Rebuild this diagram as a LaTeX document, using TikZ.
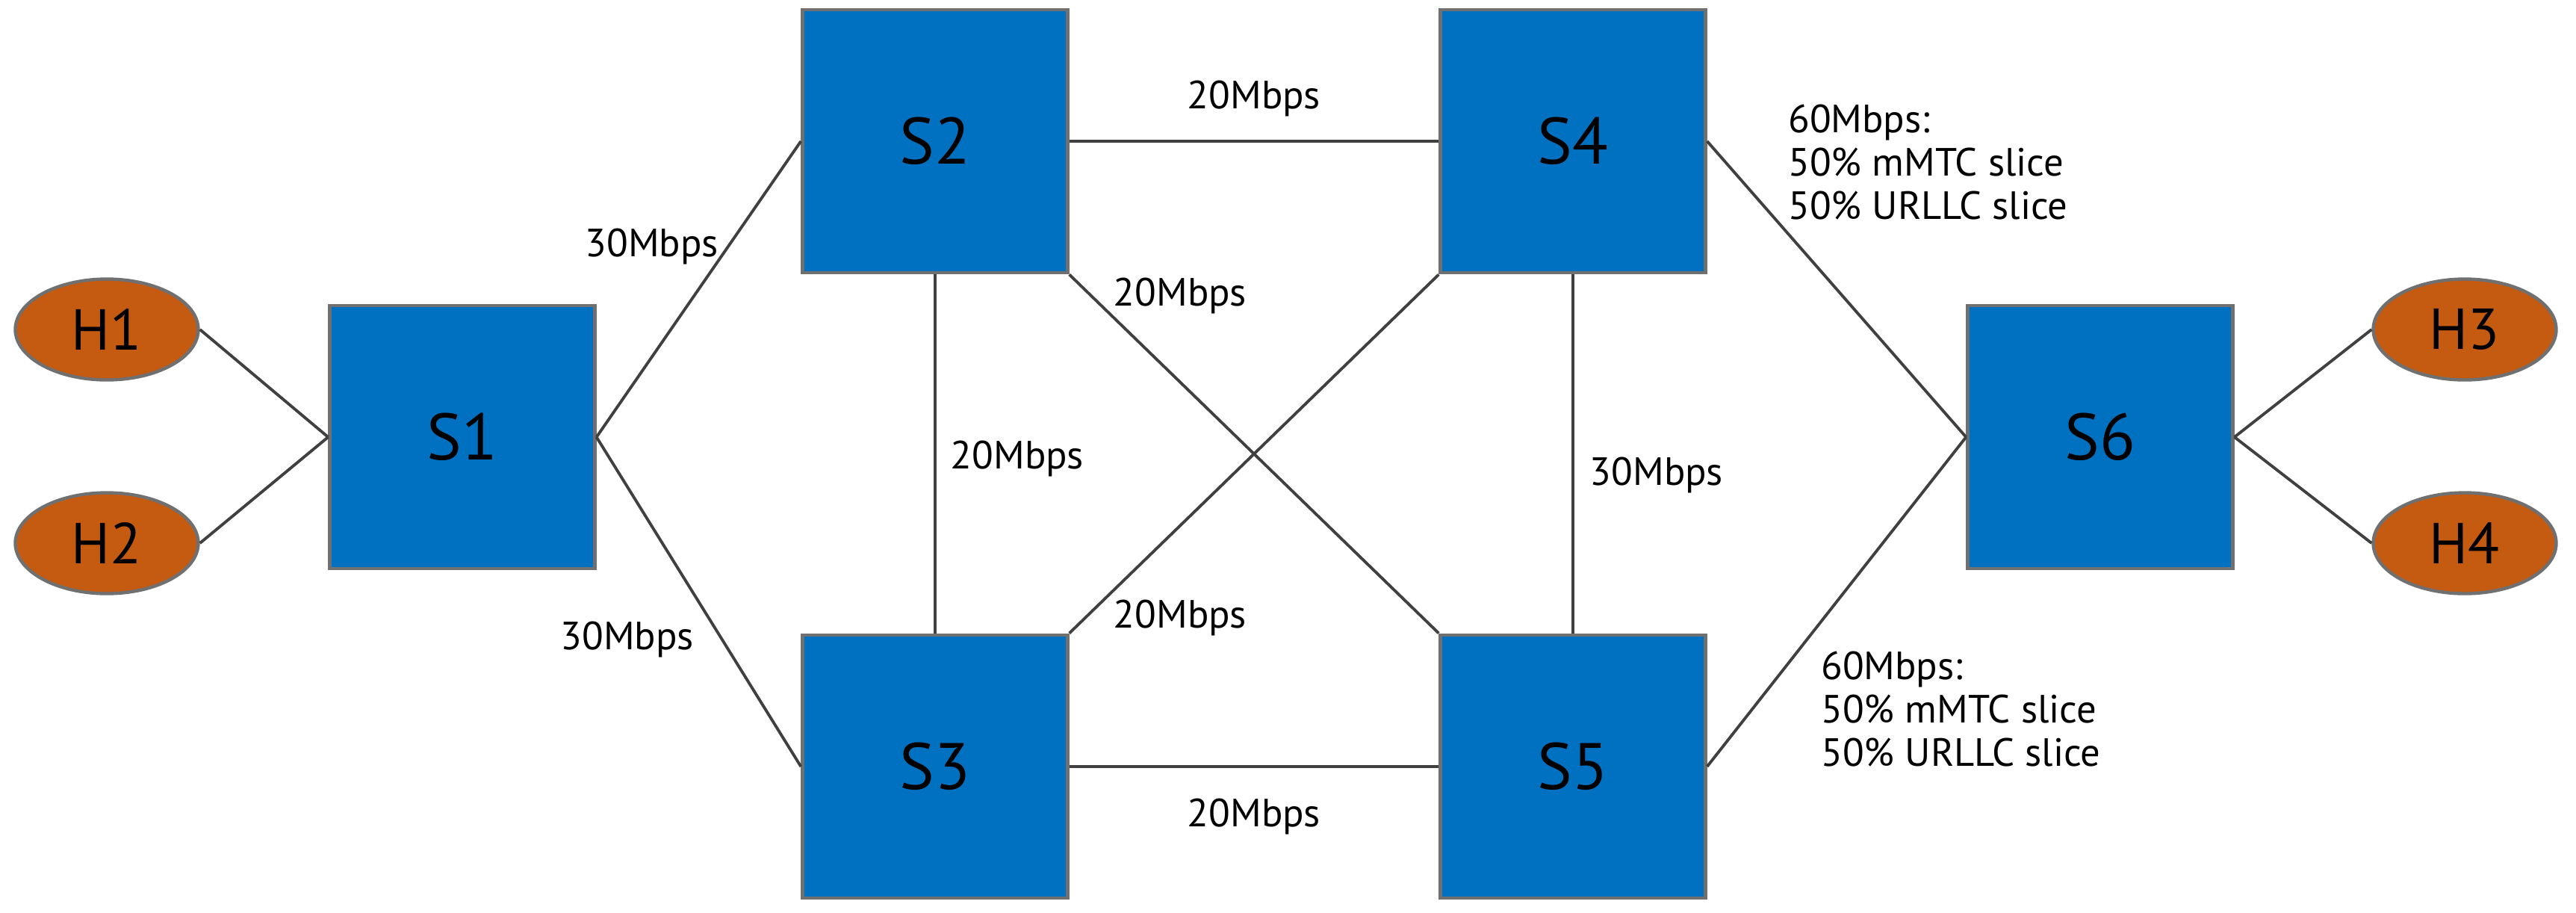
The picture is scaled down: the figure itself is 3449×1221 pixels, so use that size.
\documentclass[tikz,border=0pt]{standalone}
\usepackage{fontspec}
\setmainfont{PT Sans}
\usetikzlibrary{shapes.geometric}
\definecolor{sw}{HTML}{0070C0}
\definecolor{hs}{HTML}{C55A11}
\definecolor{bd}{HTML}{707070}
\tikzset{
 sbox/.style={draw=bd,line width=2.5pt,fill=sw,minimum width=7.1cm,minimum height=7.05cm,inner sep=0,font=\fontsize{50}{60}\selectfont},
 host/.style={ellipse,draw=bd,line width=2.5pt,fill=hs,minimum width=4.9cm,minimum height=2.7cm,inner sep=0,font=\fontsize{44}{52}\selectfont},
 link/.style={draw=black!75,line width=2.2pt},
 lbl/.style={font=\fontsize{30}{33}\selectfont,inner sep=0,align=left},
}
\begin{document}
\begin{tikzpicture}[x=0.02cm,y=-0.02cm]
\useasboundingbox (0,0) rectangle (3449,1221);
\node[sbox] (S1) at (619,585) {S1};
\node[sbox] (S2) at (1252,189) {S2};
\node[sbox] (S3) at (1252,1026) {S3};
\node[sbox] (S4) at (2106,189) {S4};
\node[sbox] (S5) at (2106,1026) {S5};
\node[sbox] (S6) at (2812,585) {S6};
\node[host] (H1) at (143,441) {H1};
\node[host] (H2) at (143,727) {H2};
\node[host] (H3) at (3300,441) {H3};
\node[host] (H4) at (3300,727) {H4};
\draw[link] (H1.east) -- (S1.west);
\draw[link] (H2.east) -- (S1.west);
\draw[link] (S1.east) -- (S2.west);
\draw[link] (S1.east) -- (S3.west);
\draw[link] (S2.east) -- (S4.west);
\draw[link] (S3.east) -- (S5.west);
\draw[link] (S2.south) -- (S3.north);
\draw[link] (S4.south) -- (S5.north);
\draw[link] (S2.south east) -- (S5.north west);
\draw[link] (S3.north east) -- (S4.south west);
\draw[link] (S4.east) -- (S6.west);
\draw[link] (S5.east) -- (S6.west);
\draw[link] (S6.east) -- (H3.west);
\draw[link] (S6.east) -- (H4.west);
\node[lbl] (l1) at (873,330) {30Mbps};
\node[lbl] (l2) at (840,856) {30Mbps};
\node[lbl] (l3) at (1679,132) {20Mbps};
\node[lbl] (l4) at (1580,396) {20Mbps};
\node[lbl] (l5) at (1362,614) {20Mbps};
\node[lbl] (l6) at (1580,827) {20Mbps};
\node[lbl] (l7) at (1679,1093) {20Mbps};
\node[lbl] (l8) at (2218,636) {30Mbps};
\node[lbl,anchor=north west] (l9) at (2394,140) {60Mbps:\\50\% mMTC slice\\50\% URLLC slice};
\node[lbl,anchor=north west] (l10) at (2438,872) {60Mbps:\\50\% mMTC slice\\50\% URLLC slice};
\end{tikzpicture}
\end{document}
